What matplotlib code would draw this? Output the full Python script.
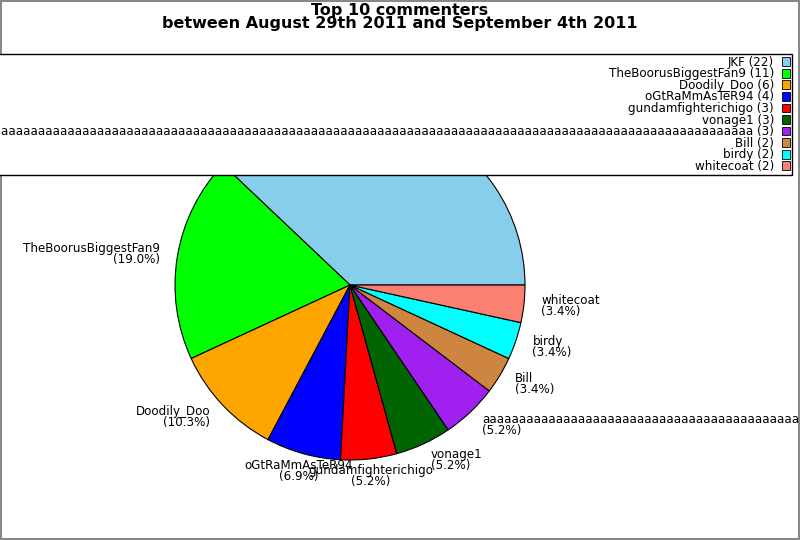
import numpy as np
import matplotlib
matplotlib.use("Agg")
import matplotlib.pyplot as plt
from matplotlib.patches import Patch

names = ["JKF", "TheBoorusBiggestFan9", "Doodily_Doo", "oGtRaMmAsTeR94",
         "gundamfighterichigo", "vonage1", "a" * 150, "Bill", "birdy", "whitecoat"]
counts = [22, 11, 6, 4, 3, 3, 3, 2, 2, 2]
colors = ["#87ceeb", "#00ff00", "#ffa500", "#0000ff", "#ff0000",
          "#006400", "#a020f0", "#cd853f", "#00ffff", "#fa8072"]

total = sum(counts)
labels = ["%s\n(%.1f%%)" % (n, 100.0 * c / total) for n, c in zip(names, counts)]

fig = plt.figure(figsize=(8, 5.4), dpi=100, edgecolor="#888888", linewidth=1.5)
ax = fig.add_axes([0.21875, 0.1481, 0.4375, 0.6481])

wedges, texts = ax.pie(counts, labels=labels, colors=colors, startangle=0,
                       counterclock=True, labeldistance=1.1,
                       wedgeprops=dict(edgecolor="black", linewidth=0.8),
                       textprops=dict(fontsize=8.6, linespacing=0.8))
for t in texts:
    x, y = t.get_position()
    if abs(x) < 0.35:
        t.set_ha("center")
ax.set_xlim(-1, 1)
ax.set_ylim(-1, 1)
ax.set_aspect("equal")
ax.axis("off")

fig.suptitle("Top 10 commenters\nbetween August 29th 2011 and September 4th 2011",
             fontsize=11.5, fontweight="bold", y=0.994, va="top", linespacing=0.85)

handles = [Patch(facecolor=c, edgecolor="black", linewidth=0.6) for c in colors]
leg_labels = ["%s (%d)" % (n, c) for n, c in zip(names, counts)]
leg = fig.legend(handles, leg_labels, loc="upper right",
                 bbox_to_anchor=(792 / 800, 1 - 54 / 540), borderaxespad=0,
                 markerfirst=False, fontsize=8.6, labelspacing=-0.12,
                 handlelength=0.65, handleheight=0.75, handletextpad=0.7,
                 fancybox=False, framealpha=1, edgecolor="black",
                 borderpad=0.15)
leg.get_frame().set_linewidth(1)

fig.savefig("out.png", dpi=100, edgecolor=fig.get_edgecolor())
